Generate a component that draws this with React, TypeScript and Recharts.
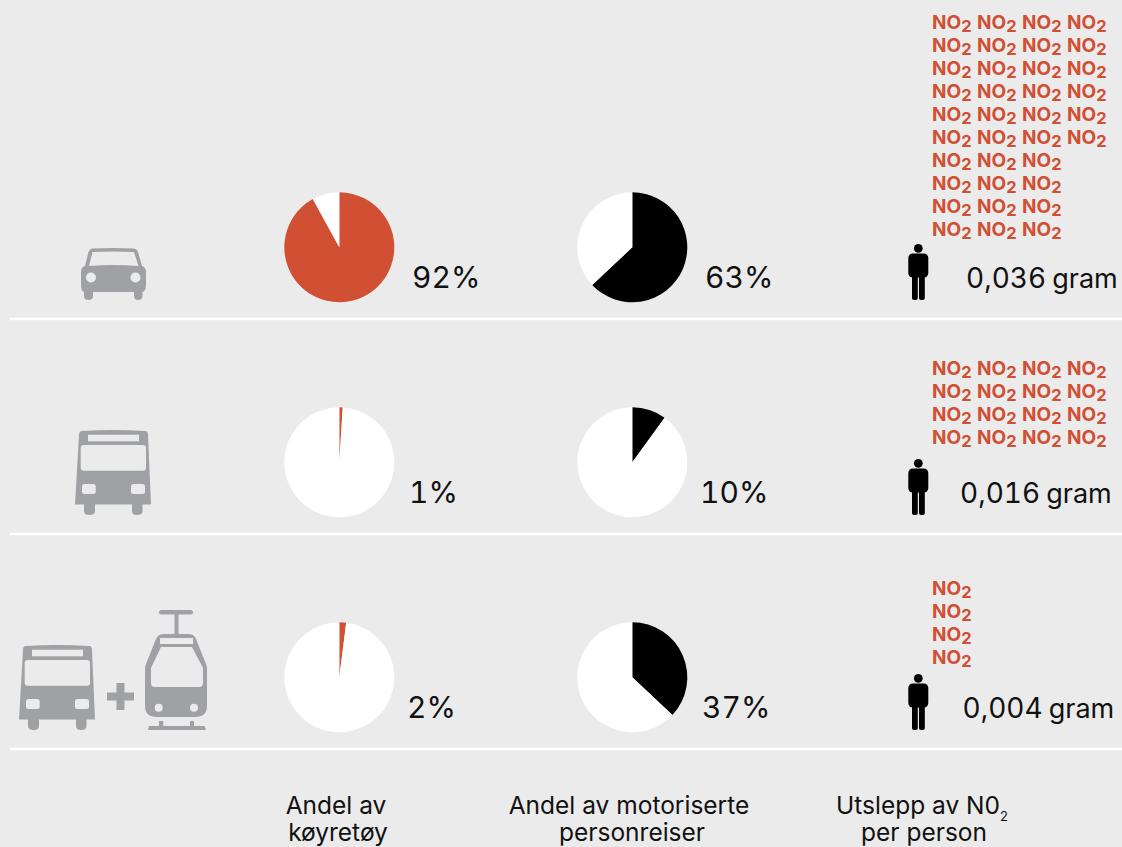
import { Pie, PieChart, Cell } from "recharts";

const vehicleShares = [92, 1, 2];
const tripShares = [63, 10, 37];
const emissionValues = ["0,036", "0,016", "0,004"];
const no2Rows = [
  [4, 4, 4, 4, 4, 4, 3, 3, 3, 3],
  [4, 4, 4, 4],
  [1, 1, 1, 1],
];

const ORANGE = "#D14F33";
const GREY = "#A0A1A4";
const BG = "#EBEBEB";
const FONT = "Inter, sans-serif";

const rowCy = [247.3, 462.3, 677.3];
const vehicleLabelX = [412, 409, 407];
const tripLabelX = [705, 700, 702];
const emissionLabelX = [966, 960, 962.5];
const no2FirstBaseline = [29.3, 375.3, 595.3];

function share(v: number) {
  return [
    { name: "share", value: v },
    { name: "rest", value: 100 - v },
  ];
}

function Bus({ dx = 0, dy = 0 }: { dx?: number; dy?: number }) {
  return (
    <g transform={`translate(${dx} ${dy})`}>
      <path
        fill={GREY}
        d="M82 431 Q113 429 145 431 Q148 431 148 435 L151 504.5 L142.5 504.5 L142.5 511 Q142.5 515 137 515 Q132 515 132 511 L132 504.5 L95 504.5 L95 511 Q95 515 89.5 515 Q84 515 84 511 L84 504.5 L75 504.5 L79 435 Q79 431 82 431 Z"
      />
      <rect x={88} y={434.7} width={51} height={6.6} fill={BG} />
      <rect x={80.7} y={445} width={65.3} height={25.7} rx={3} fill={BG} />
      <rect x={82} y={484} width={13.7} height={10} rx={2.5} fill={BG} />
      <rect x={131} y={484} width={14} height={10} rx={2.5} fill={BG} />
    </g>
  );
}

function Car() {
  return (
    <g>
      <path
        fill={GREY}
        d="M92 248.5 Q113 247.5 134 248.5 Q137 249 138 252 L142 266 Q146 267 146 272 L146 285 Q145.5 292 142.5 292 L142.5 296 Q142.5 300 138 300 Q134 300 134 296 L134 292 L93 292 L93 296 Q93 300 88.5 300 Q84 300 84 296 L84 292 Q81 291 81 285 L81 272 Q81 267 85 266 L88.5 252 Q89.5 249 92 248.5 Z"
      />
      <path fill={BG} d="M92.5 252 Q113 251 134 252 L138.5 266 Q113 264 89 266 Z" />
      <circle cx={91} cy={277.5} r={5} fill={BG} />
      <circle cx={135.5} cy={277.5} r={5} fill={BG} />
    </g>
  );
}

function Tram() {
  return (
    <g>
      <rect x={107} y={692.5} width={27} height={8} fill={GREY} />
      <rect x={116.5} y={683} width={8} height={27} fill={GREY} />
      <rect x={159} y={610} width={34} height={4.5} rx={2.2} fill={GREY} />
      <rect x={174.5} y={612} width={4} height={24} fill={GREY} />
      <path
        fill={GREY}
        d="M164 634 L189 634 Q194 634 196 639 L206 664 Q207 666 207 670 L207 706 Q207 717 195 717 L157 717 Q145 717 145 706 L145 670 Q145 666 146 664 L156 639 Q158 634 164 634 Z"
      />
      <rect x={160} y={638} width={33} height={6} fill={BG} />
      <path
        fill={BG}
        d="M161 647 L192 647 L203 668 L203 683 Q203 687 199 687 L155 687 Q151 687 151 683 L151 668 Z"
      />
      <circle cx={158.7} cy={707.7} r={4} fill={BG} />
      <circle cx={194} cy={707.7} r={4} fill={BG} />
      <path fill={GREY} d="M149 726 L159 726 L159 721 L163.3 721 L163.3 726 L190 726 L190 721 L194 721 L194 726 L204.5 726 L206 730 L148 730 Z" />
    </g>
  );
}

function Person({ dy = 0 }: { dy?: number }) {
  return (
    <g transform={`translate(0 ${dy})`} fill="#000">
      <circle cx={918.3} cy={248.3} r={4.4} />
      <rect x={908.3} y={253.5} width={20} height={24} rx={4.5} />
      <rect x={912} y={270} width={5.8} height={30} rx={2} />
      <rect x={919} y={270} width={5.8} height={30} rx={2} />
    </g>
  );
}

function No2({ x, y }: { x: number; y: number }) {
  return (
    <text x={x} y={y} fill={ORANGE} fontFamily={FONT} fontWeight={700} fontSize={19}>
      NO
      <tspan fontSize={16.5} dy={3}>
        2
      </tspan>
    </text>
  );
}

export default function App() {
  document.body.style.margin = "0";
  return (
    <div style={{ width: 1122, height: 847, background: BG, overflow: "hidden" }}>
      <PieChart width={1122} height={847} margin={{ top: 0, right: 0, bottom: 0, left: 0 }}>
        {vehicleShares.map((v, i) => (
          <Pie
            key={`vehicle-${i}`}
            data={share(v)}
            dataKey="value"
            cx={339.3}
            cy={rowCy[i]}
            outerRadius={55}
            startAngle={90}
            endAngle={-270}
            stroke="none"
            isAnimationActive={false}
          >
            <Cell fill={ORANGE} />
            <Cell fill="#FFFFFF" />
          </Pie>
        ))}
        {tripShares.map((v, i) => (
          <Pie
            key={`trip-${i}`}
            data={share(v)}
            dataKey="value"
            cx={632.3}
            cy={rowCy[i]}
            outerRadius={55}
            startAngle={90}
            endAngle={-270}
            stroke="none"
            isAnimationActive={false}
          >
            <Cell fill="#000000" />
            <Cell fill="#FFFFFF" />
          </Pie>
        ))}

        {[317.7, 532.7, 747.7].map((y) => (
          <rect key={y} x={10} y={y} width={1112} height={2.5} fill="#FFFFFF" />
        ))}

        <Car />
        <Bus />
        <Bus dx={-56} dy={215} />
        <Tram />

        {rowCy.map((cy, i) => (
          <g key={cy} fontFamily={FONT} fill="#111" style={{ fontVariantNumeric: "tabular-nums" }}>
            <text x={vehicleLabelX[i]} y={287.5 + i * 215} fontSize={30}>
              {vehicleShares[i]}%
            </text>
            <text x={tripLabelX[i]} y={287.5 + i * 215} fontSize={30}>
              {tripShares[i]}%
            </text>
            <text x={emissionLabelX[i]} y={287.5 + i * 215} fontSize={28}>
              {emissionValues[i]}
              <tspan fontSize={27} dx={6}>gram</tspan>
            </text>
            <Person dy={i * 215} />
          </g>
        ))}

        {no2Rows.map((rows, i) =>
          rows.map((count, r) =>
            Array.from({ length: count }).map((_, c) => (
              <No2 key={`${i}-${r}-${c}`} x={932 + c * 45} y={no2FirstBaseline[i] + r * 23} />
            )),
          ),
        )}

        <g fontFamily={FONT} fontSize={24.5} fill="#111" textAnchor="middle">
          <text x={336} y={813.5}>Andel av</text>
          <text x={338} y={841}>køyretøy</text>
          <text x={629} y={813.5}>Andel av motoriserte</text>
          <text x={632} y={841}>personreiser</text>
          <text x={922} y={813.5}>
            Utslepp av N0
            <tspan fontSize={13} dy={7}>2</tspan>
          </text>
          <text x={924} y={841}>per person</text>
        </g>
      </PieChart>
    </div>
  );
}
